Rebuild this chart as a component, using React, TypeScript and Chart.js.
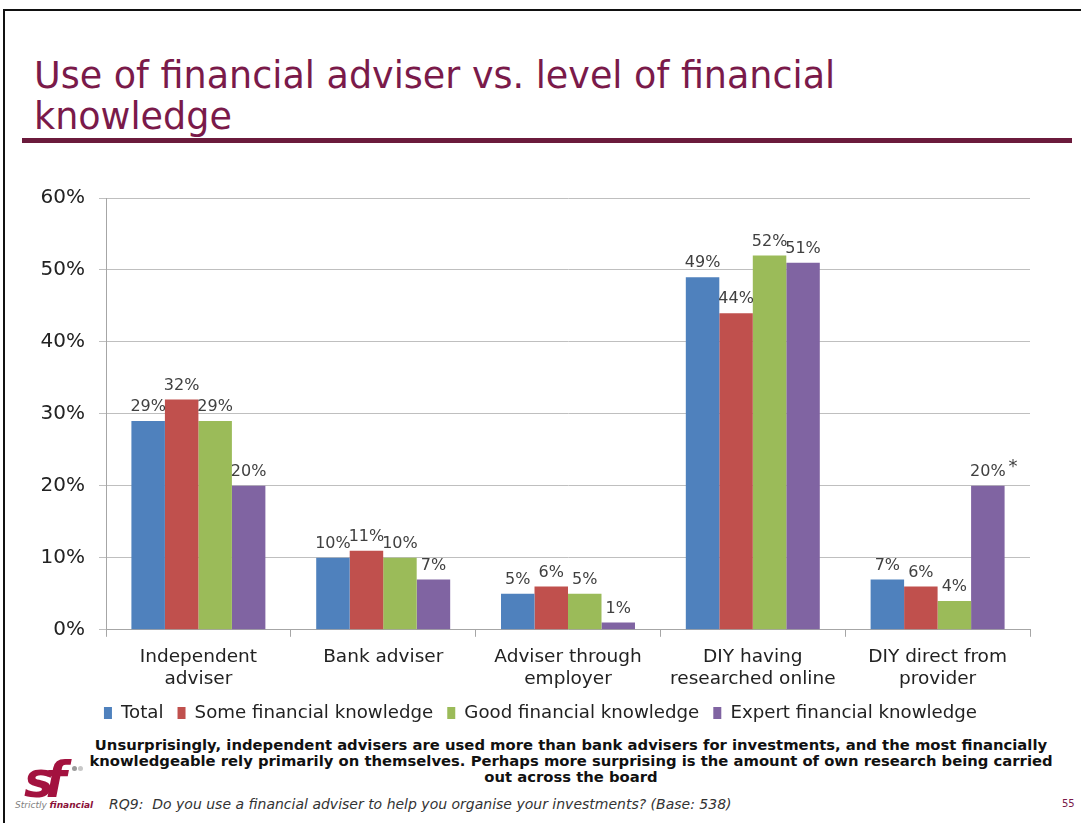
import React, { useEffect, useRef } from "react";
import { Chart, registerables } from "chart.js";

Chart.register(...registerables);

const categories: string[][] = [
  ["Independent", "adviser"],
  ["Bank adviser"],
  ["Adviser through", "employer"],
  ["DIY having", "researched online"],
  ["DIY direct from", "provider"],
];
const seriesNames = [
  "Total",
  "Some financial knowledge",
  "Good financial knowledge",
  "Expert financial knowledge",
];
const totalValues = [29, 10, 5, 49, 7];
const someValues = [32, 11, 6, 44, 6];
const goodValues = [29, 10, 5, 52, 4];
const expertValues = [20, 7, 1, 51, 20];
const expertNotes = ["", "", "", "", "*"];
const yTicks = [0, 10, 20, 30, 40, 50, 60];
const seriesColors = ["#4F81BD", "#C0504D", "#9BBB59", "#8064A2"];

const FONT = "'DejaVu Sans', Verdana, sans-serif";

const dataLabelPlugin = {
  id: "dataLabels",
  afterDatasetsDraw(chart: any) {
    const ctx = chart.ctx;
    ctx.save();
    ctx.font = `16px ${FONT}`;
    ctx.fillStyle = "#404040";
    ctx.textAlign = "center";
    ctx.textBaseline = "bottom";
    chart.data.datasets.forEach((ds: any, di: number) => {
      const meta = chart.getDatasetMeta(di);
      meta.data.forEach((el: any, i: number) => {
        const v = ds.data[i];
        const text = `${v}%`;
        ctx.fillText(text, el.x, el.y - 6);
        const note = ds.notes ? ds.notes[i] : "";
        if (note) {
          const w = ctx.measureText(text).width;
          ctx.font = `18px ${FONT}`;
          ctx.textAlign = "left";
          ctx.fillText(note, el.x + w / 2 + 3, el.y - 10);
          ctx.font = `16px ${FONT}`;
          ctx.textAlign = "center";
        }
      });
    });
    ctx.restore();
  },
};

function BarChart() {
  const ref = useRef<HTMLCanvasElement | null>(null);
  useEffect(() => {
    if (!ref.current) return;
    const values = [totalValues, someValues, goodValues, expertValues];
    const chart = new Chart(ref.current, {
      type: "bar",
      data: {
        labels: categories,
        datasets: values.map((d, i) => ({
          label: seriesNames[i],
          data: d,
          backgroundColor: seriesColors[i],
          borderWidth: 0,
          categoryPercentage: 0.725,
          barPercentage: 1.0,
          notes: i === 3 ? expertNotes : undefined,
        })) as any,
      },
      options: {
        animation: false,
        responsive: false,
        maintainAspectRatio: false,
        layout: { padding: { top: 28, left: 0, right: 0, bottom: 4 } },
        scales: {
          y: {
            min: 0,
            max: 60,
            afterBuildTicks: (scale: any) => {
              scale.ticks = yTicks.map((v) => ({ value: v }));
            },
            afterFit: (scale: any) => {
              scale.width = 106;
            },
            ticks: {
              callback: (v: any) => `${v}%`,
              font: { size: 20, family: FONT },
              color: "#222",
              padding: 14,
            },
            grid: { color: "#BFBFBF", tickLength: 7, lineWidth: 1 },
            border: { color: "#A6A6A6" },
          },
          yRightSpace: {
            position: "right",
            min: 0,
            max: 60,
            afterFit: (scale: any) => {
              scale.width = 51;
            },
            ticks: { display: false },
            grid: { display: false, drawTicks: false },
            border: { display: false },
          },
          x: {
            afterFit: (scale: any) => {
              scale.height = 60;
            },
            ticks: {
              font: { size: 18.5, family: FONT, lineHeight: 1.2 },
              color: "#222",
              padding: 9,
              maxRotation: 0,
            },
            grid: {
              offset: true,
              drawOnChartArea: false,
              tickLength: 7,
              color: "#A6A6A6",
            },
            border: { color: "#A6A6A6" },
          },
        },
        plugins: {
          legend: {
            position: "bottom",
            labels: {
              font: { size: 18.2, family: FONT },
              color: "#222",
              boxWidth: 8,
              boxHeight: 12,
              padding: 14,
            },
          },
          tooltip: { enabled: false },
        },
      } as any,
      plugins: [dataLabelPlugin],
    });
    return () => chart.destroy();
  }, []);
  return (
    <canvas
      ref={ref}
      width={1081}
      height={566}
      style={{ position: "absolute", left: 0, top: 170, width: 1081, height: 566 }}
    />
  );
}

export default function App() {
  return (
    <div
      style={{
        position: "fixed",
        left: 0,
        top: 0,
        width: 1081,
        height: 823,
        background: "#fff",
        overflow: "hidden",
        fontFamily: FONT,
      }}
    >
      <div style={{ position: "absolute", left: 3, top: 9, width: 1090, height: 900, borderTop: "2px solid #111", borderLeft: "2px solid #111" }} />
      <div
        style={{
          position: "absolute",
          left: 34,
          top: 55,
          fontSize: 36.5,
          lineHeight: "41px",
          color: "#7A1A4A",
          fontFamily: FONT,
          whiteSpace: "nowrap",
        }}
      >
        Use of financial adviser vs. level of financial
        <br />
        knowledge
      </div>
      <div style={{ position: "absolute", left: 22, top: 138, width: 1050, height: 5, background: "#6B1B3C" }} />
      <BarChart />
      <div
        style={{
          position: "absolute",
          left: 71,
          top: 737,
          width: 1000,
          textAlign: "center",
          fontWeight: "bold",
          fontSize: 14.8,
          lineHeight: "16px",
          color: "#111",
          fontFamily: FONT,
          whiteSpace: "nowrap",
        }}
      >
        Unsurprisingly, independent advisers are used more than bank advisers for investments, and the most financially
        <br />
        knowledgeable rely primarily on themselves. Perhaps more surprising is the amount of own research being carried
        <br />
        out across the board
      </div>
      <div
        style={{
          position: "absolute",
          left: 24,
          top: 750,
          fontSize: 50,
          fontWeight: "bold",
          fontStyle: "italic",
          color: "#A3123F",
          letterSpacing: -9,
          lineHeight: "60px",
          height: 50,
          overflow: "visible",
          fontFamily: FONT,
        }}
      >
        sf
      </div>
      <div style={{ position: "absolute", left: 72, top: 766, width: 5, height: 5, borderRadius: 3, background: "#9A9A9A" }} />
      <div style={{ position: "absolute", left: 78, top: 766, width: 5, height: 5, borderRadius: 3, background: "#C8C8C8" }} />
      <div
        style={{
          position: "absolute",
          left: 15,
          top: 800,
          fontSize: 9,
          fontStyle: "italic",
          color: "#808080",
          fontFamily: FONT,
          whiteSpace: "nowrap",
        }}
      >
        Strictly <span style={{ color: "#8A1038", fontWeight: "bold" }}>financial</span>
      </div>
      <div
        style={{
          position: "absolute",
          left: 109,
          top: 796,
          fontSize: 14,
          fontStyle: "italic",
          color: "#333",
          fontFamily: FONT,
          whiteSpace: "pre",
        }}
      >
        {"RQ9:  Do you use a financial adviser to help you organise your investments? (Base: 538)"}
      </div>
      <div
        style={{
          position: "absolute",
          left: 1062,
          top: 798,
          fontSize: 10,
          color: "#7A1A4A",
          fontFamily: FONT,
        }}
      >
        55
      </div>
    </div>
  );
}
